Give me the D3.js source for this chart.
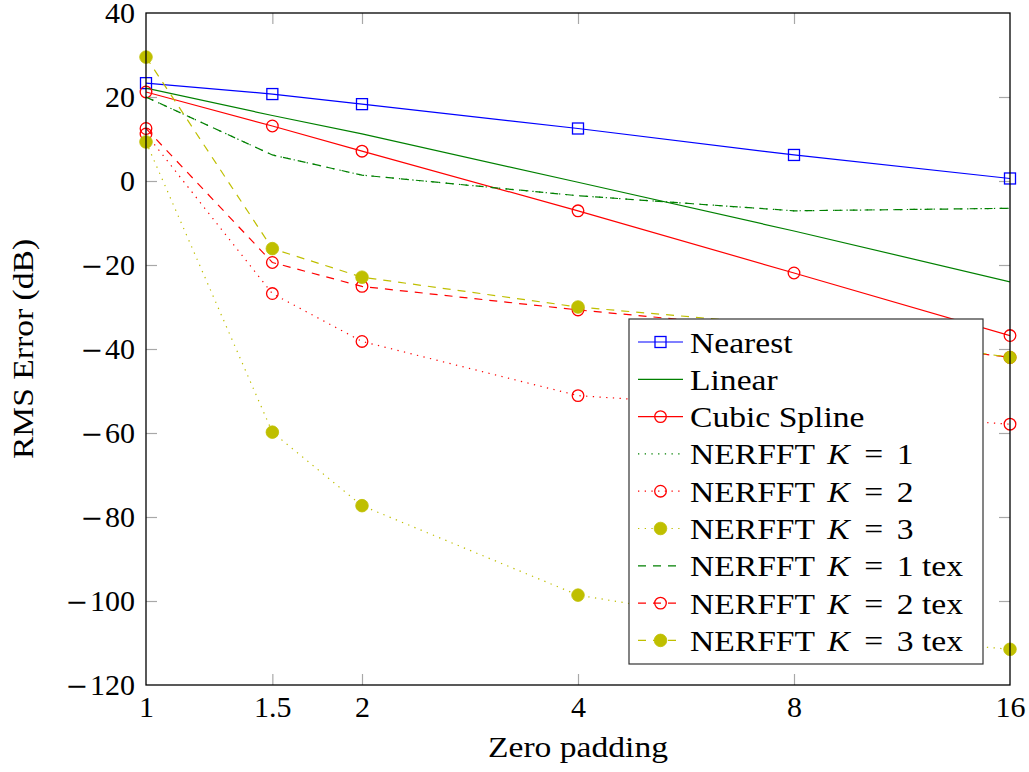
<!DOCTYPE html>
<html>
<head>
<meta charset="utf-8">
<script src="https://cdn.jsdelivr.net/npm/d3@7/dist/d3.min.js"></script>
<style>
  body { margin: 0; background: #fff; }
  text { font-family: "Liberation Serif", "DejaVu Serif", serif; fill: #000; }
</style>
</head>
<body>
<svg id="chart" width="1029" height="772"></svg>
<script>
// zero padding factors (x) and RMS error in dB per method
var padding = [1, 1.5, 2, 4, 8, 16];
var xTicks = [1, 1.5, 2, 4, 8, 16];
var yTicks = [-120, -100, -80, -60, -40, -20, 0, 20, 40];

var nearest = [23.3, 20.7, 18.3, 12.5, 6.2, 0.6];
var linear = [22.1, 15.6, 11.2, -0.3, -11.9, -24.0];
var cubic = [21.2, 13.1, 7.1, -7.1, -21.9, -36.8];
var nerfK1 = [20.0, 6.2, 1.4, -3.5, -7.1, -6.5];
var nerfK2 = [11.2, -26.8, -38.2, -51.1, -54.5, -57.9];
var nerfK3 = [9.3, -59.8, -77.3, -98.6, -107.0, -111.5];
var nerfK1tex = [20.0, 6.2, 1.4, -3.5, -7.1, -6.5];
var nerfK2tex = [12.5, -19.4, -25.1, -30.7, -35.5, -42.0];
var nerfK3tex = [29.5, -16.1, -22.9, -30.0, -34.5, -42.0];

var seriesNames = ["Nearest", "Linear", "Cubic Spline", "NERFFT K = 1", "NERFFT K = 2",
                   "NERFFT K = 3", "NERFFT K = 1 tex", "NERFFT K = 2 tex", "NERFFT K = 3 tex"];
var seriesValues = [nearest, linear, cubic, nerfK1, nerfK2, nerfK3, nerfK1tex, nerfK2tex, nerfK3tex];
var seriesColors = ["#0000ff", "#008000", "#ff0000", "#008000", "#ff0000", "#bfbf00", "#008000", "#ff0000", "#bfbf00"];
var seriesDash = ["", "", "", "1.3,5.4", "1.3,5.4", "1.3,5.4", "8,7", "8,7", "8,7"];
var seriesMark = ["square", "none", "circle", "none", "circle", "dot", "none", "circle", "dot"];

var svg = d3.select("#chart");

var pLeft = 146, pRight = 1010, pTop = 13, pBottom = 685;
var stretch = 1.12; // widen the serif text a bit, closer to the TeX look

var x = d3.scaleLog().base(2).domain([1, 16]).range([pLeft, pRight]);
var y = d3.scaleLinear().domain([-120, 40]).range([pBottom, pTop]);

// axes (ticks point inward, grey)
var gx = svg.append("g").attr("transform", "translate(0," + pBottom + ")")
    .call(d3.axisBottom(x).tickValues(xTicks).tickFormat(function(d) { return String(d); })
        .tickSizeInner(-11).tickSizeOuter(0).tickPadding(11));
var gxt = svg.append("g").attr("transform", "translate(0," + pTop + ")")
    .call(d3.axisTop(x).tickValues(xTicks.slice(1, -1)).tickFormat("")
        .tickSizeInner(-11).tickSizeOuter(0));
var gy = svg.append("g").attr("transform", "translate(" + pLeft + ",0)")
    .call(d3.axisLeft(y).tickValues(yTicks).tickFormat("")
        .tickSizeInner(-11).tickSizeOuter(0).tickPadding(11));
var gyr = svg.append("g").attr("transform", "translate(" + pRight + ",0)")
    .call(d3.axisRight(y).tickValues(yTicks.slice(1, -1)).tickFormat("")
        .tickSizeInner(-11).tickSizeOuter(0));

[gx, gxt, gy, gyr].forEach(function(g) {
    g.select(".domain").remove();
    g.selectAll(".tick line").attr("stroke", "#a8a8a8").attr("stroke-width", 1.2);
    g.selectAll(".tick text").style("font-size", "30px")
        .style("font-family", '"Liberation Serif", serif').attr("fill", "#000");
});
// y labels: wide minus like TeX
gy.selectAll(".tick text").each(function(d) {
    var t = d3.select(this).text("");
    if (d < 0) {
        t.append("tspan").style("font-family", '"DejaVu Serif", serif').style("font-size", "27px").text("\u2212");
        t.append("tspan").attr("dx", 2).text(Math.abs(d));
    } else {
        t.text(d);
    }
});
// no tick marks at the corners
gx.selectAll(".tick").filter(function(d) { return d == 1 || d == 16; }).select("line").remove();
gy.selectAll(".tick").filter(function(d) { return d == -120 || d == 40; }).select("line").remove();

svg.append("defs").append("clipPath").attr("id", "clip")
    .append("rect").attr("x", pLeft).attr("y", pTop).attr("width", pRight - pLeft).attr("height", pBottom - pTop);

var line = d3.line()
    .x(function(d, i) { return x(padding[i]); })
    .y(function(d) { return y(d); });

function drawMark(g, kind, color, cx, cy) {
    if (kind == "square") {
        g.append("rect").attr("x", cx - 5.5).attr("y", cy - 5.5).attr("width", 11).attr("height", 11)
            .attr("fill", "none").attr("stroke", color).attr("stroke-width", 1.3);
    } else if (kind == "circle") {
        g.append("circle").attr("cx", cx).attr("cy", cy).attr("r", 5.8)
            .attr("fill", "none").attr("stroke", color).attr("stroke-width", 1.3);
    } else if (kind == "dot") {
        g.append("circle").attr("cx", cx).attr("cy", cy).attr("r", 6.3)
            .attr("fill", color).attr("stroke", color).attr("stroke-width", 0.8);
    }
}

var plot = svg.append("g");
seriesValues.forEach(function(vals, s) {
    var g = plot.append("g");
    g.append("path").datum(vals)
        .attr("d", line)
        .attr("clip-path", "url(#clip)")
        .attr("fill", "none")
        .attr("stroke", seriesColors[s])
        .attr("stroke-width", 1.2)
        .attr("stroke-dasharray", seriesDash[s] || null);
    vals.forEach(function(v, i) {
        drawMark(g, seriesMark[s], seriesColors[s], x(padding[i]), y(v));
    });
});

// frame
svg.append("rect").attr("x", pLeft).attr("y", pTop).attr("width", pRight - pLeft).attr("height", pBottom - pTop)
    .attr("fill", "none").attr("stroke", "#000").attr("stroke-width", 1.3);

// axis labels
svg.append("text").attr("transform", "translate(" + ((pLeft + pRight) / 2) + ",757) scale(" + stretch + ",1)")
    .attr("text-anchor", "middle").style("font-size", "30px").text("Zero padding");
svg.append("text").attr("transform", "translate(33," + ((pTop + pBottom) / 2) + ") rotate(-90) scale(" + stretch + ",1)")
    .attr("text-anchor", "middle").style("font-size", "30px").text("RMS Error (dB)");

// legend
var lg = svg.append("g");
lg.append("rect").attr("x", 629).attr("y", 319).attr("width", 354).attr("height", 345)
    .attr("fill", "#fff").attr("stroke", "#333").attr("stroke-width", 1.2);

seriesNames.forEach(function(name, s) {
    var cy = 342 + s * 37.3;
    var row = lg.append("g");
    row.append("line").attr("x1", 638).attr("x2", 683).attr("y1", cy).attr("y2", cy)
        .attr("stroke", seriesColors[s]).attr("stroke-width", 1.2)
        .attr("stroke-dasharray", seriesDash[s] || null);
    drawMark(row, seriesMark[s], seriesColors[s], 660.5, cy);
    var t = row.append("text")
        .attr("transform", "translate(690," + cy + ") scale(" + stretch + ",1)")
        .attr("dy", "0.35em").style("font-size", "30px");
    var m = name.match(/^(NERFFT )K = (\d)(.*)$/);
    if (m) {
        t.append("tspan").text(m[1]);
        t.append("tspan").attr("dx", 4).style("font-style", "italic").text("K");
        t.append("tspan").attr("dx", 13).text("=");
        t.append("tspan").attr("dx", 12).text(m[2]);
        t.append("tspan").text(m[3]);
    } else {
        t.text(name);
    }
});
</script>
</body>
</html>
